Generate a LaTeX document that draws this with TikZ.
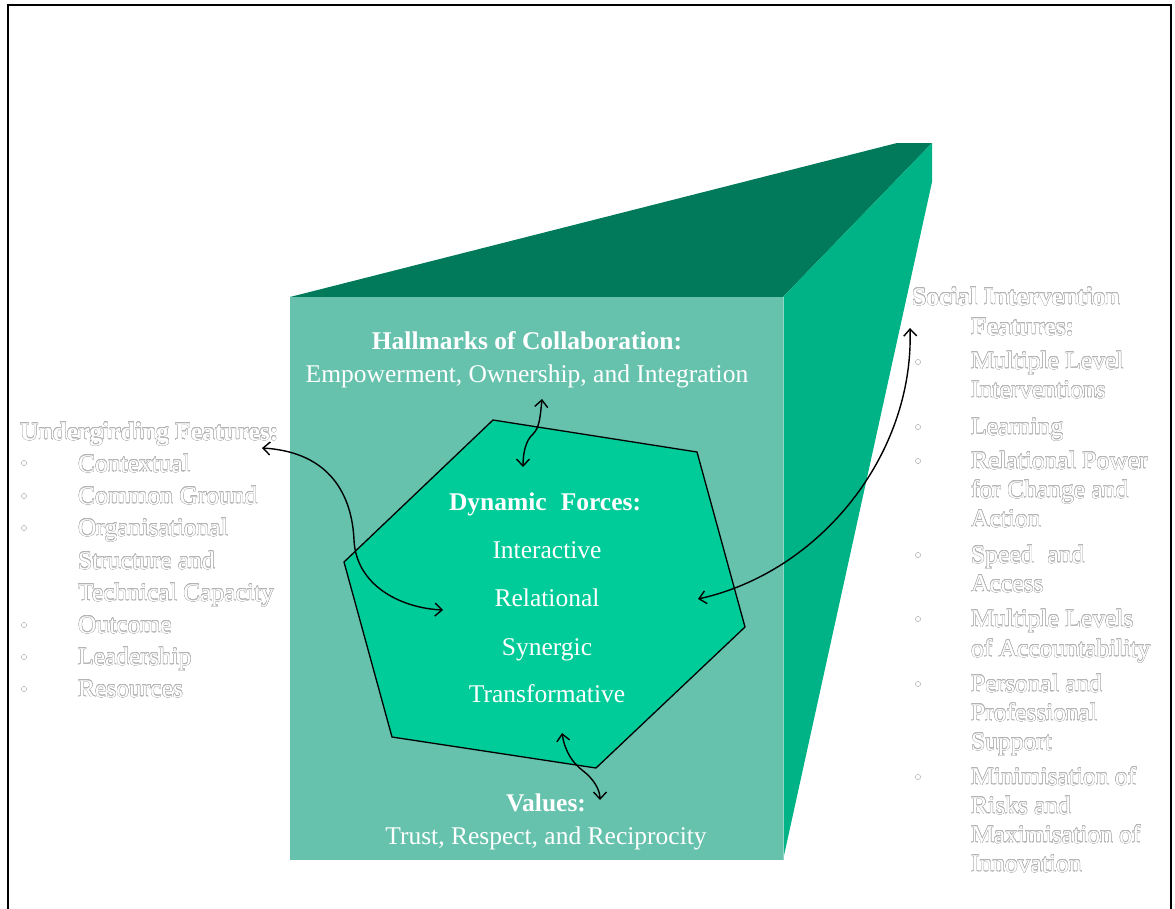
\documentclass[tikz,border=0pt]{standalone}
\usepackage{fontspec}
\setmainfont{Liberation Serif}
\usepackage{contour}
\contourlength{0.3pt}
\contournumber{24}
\usetikzlibrary{arrows.meta}
\definecolor{frontc}{HTML}{66C2AD}
\definecolor{topc}{HTML}{007A5A}
\definecolor{sidec}{HTML}{00B386}
\definecolor{hexc}{HTML}{00CC99}
\definecolor{olc}{HTML}{B4B4B4}
\definecolor{edgec}{HTML}{8FD6C4}
\newcommand{\olt}[1]{\contour{olc}{#1}}
\newcommand{\fsz}{\fontsize{25.5}{30}\selectfont}
\tikzset{
  wtxt/.style={text=white, font=\fsz, inner sep=0pt, anchor=base},
  otxt/.style={text=white, font=\fsz, inner sep=0pt, anchor=base west},
  bul/.style={draw=olc, fill=white, line width=0.5pt},
  conn/.style={line width=1.4pt, {Straight Barb[length=7pt,width=13pt]}-{Straight Barb[length=7pt,width=13pt]}}
}
\begin{document}
\begin{tikzpicture}[x=1pt,y=-1pt]
\useasboundingbox (0,0) rectangle (1175,908);
% frame
\draw[line width=2.8pt] (8,915) -- (8,5) -- (1171,5) -- (1171,915);
% box
\fill[topc] (290,297) -- (897,143) -- (932,143) -- (783,297) -- cycle;
\fill[sidec] (783,297) -- (932,143) -- (932,182) -- (783,860) -- cycle;
\fill[frontc] (290,297) rectangle (783,860);
\draw[edgec, line width=1pt] (783,297) -- (783,860);
% hexagon
\draw[fill=hexc, line width=1.3pt] (493,420) -- (697,452) -- (745,627) -- (596,768) -- (392,737) -- (344,562) -- cycle;
% centre texts
\node[wtxt] (hall) at (527,349) {\bfseries Hallmarks of Collaboration:};
\node[wtxt] (emp) at (527,382) {Empowerment, Ownership, and Integration};
\node[wtxt] (dyn) at (545,510) {\bfseries Dynamic\hspace{0.3em} Forces:};
\node[wtxt] (inter) at (547,558) {Interactive};
\node[wtxt] (rel) at (547,606) {Relational};
\node[wtxt] (syn) at (547,655) {Synergic};
\node[wtxt] (trans) at (547,702) {Transformative};
\node[wtxt] (val) at (546,811) {\bfseries Values:};
\node[wtxt] (trust) at (546,844) {Trust, Respect, and Reciprocity};
% left texts
\node[otxt] (ug) at (20,440) {\bfseries\olt{Undergirding Features:}};
\node[otxt] (l1) at (78,472) {\olt{Contextual}};
\node[otxt] (l2) at (78,504) {\olt{Common Ground}};
\node[otxt] (l3) at (78,536) {\olt{Organisational}};
\node[otxt] (l4) at (78,569) {\olt{Structure and}};
\node[otxt] (l5) at (78,601) {\olt{Technical Capacity}};
\node[otxt] (l6) at (78,633) {\olt{Outcome}};
\node[otxt] (l7) at (78,665) {\olt{Leadership}};
\node[otxt] (l8) at (78,697) {\olt{Resources}};
\foreach \yy in {463,496,528,625,657,689} \draw[bul] (24,\yy) circle (2.6);
% right texts
\node[otxt] (si1) at (912,305) {\bfseries\olt{Social Intervention}};
\node[otxt] (si2) at (971,335) {\bfseries\olt{Features:}};
\node[otxt] (r1) at (971,369) {\olt{Multiple Level}};
\node[otxt] (r2) at (971,398) {\olt{Interventions}};
\node[otxt] (r3) at (971,435) {\olt{Learning}};
\node[otxt] (r4) at (971,469) {\olt{Relational Power}};
\node[otxt] (r5) at (971,498) {\olt{for Change and}};
\node[otxt] (r6) at (971,527) {\olt{Action}};
\node[otxt] (r7) at (971,563) {\olt{Speed\hspace{0.3em} and}};
\node[otxt] (r8) at (971,592) {\olt{Access}};
\node[otxt] (r9) at (971,627) {\olt{Multiple Levels}};
\node[otxt] (r10) at (971,657) {\olt{of Accountability}};
\node[otxt] (r11) at (971,692) {\olt{Personal and}};
\node[otxt] (r12) at (971,721) {\olt{Professional}};
\node[otxt] (r13) at (971,750) {\olt{Support}};
\node[otxt] (r14) at (971,785) {\olt{Minimisation of}};
\node[otxt] (r15) at (971,814) {\olt{Risks and}};
\node[otxt] (r16) at (971,843) {\olt{Maximisation of}};
\node[otxt] (r17) at (971,872) {\olt{Innovation}};
\foreach \yy in {362,427,461,555,619,684,777} \draw[bul] (918,\yy) circle (2.6);
% connector end points
\coordinate (tA) at (542,399);
\coordinate (tB) at (523,467);
\coordinate (lA) at (262,448);
\coordinate (lB) at (443,610);
\coordinate (rA) at (698,599);
\coordinate (rB) at (910,328);
\coordinate (bA) at (562,733);
\coordinate (bB) at (600,800);
% connectors
\draw[conn] (tA) .. controls (540,420) and (539,428) .. (533,434) .. controls (525,441) and (523,455) .. (tB);
\draw[conn] (lA) .. controls (330,452) and (352,495) .. (354,540) .. controls (356,585) and (400,608) .. (lB);
\draw[conn] (rA) .. controls (820,572) and (914,455) .. (rB);
\draw[conn] (bA) .. controls (565,752) and (573,763) .. (582,770) .. controls (594,779) and (600,790) .. (bB);
\end{tikzpicture}
\end{document}
